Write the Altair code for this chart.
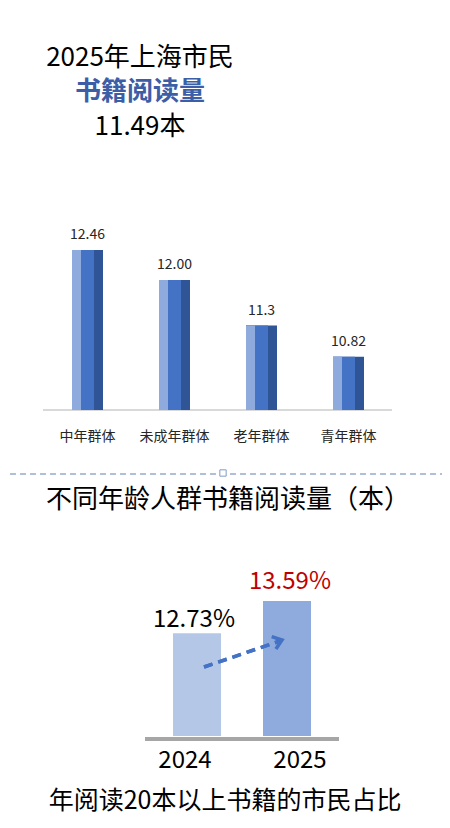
import altair as alt
import pandas as pd

# ---- data ----
groups = ["中年群体", "未成年群体", "老年群体", "青年群体"]
group_values = [12.46, 12.00, 11.3, 10.82]
group_labels = ["12.46", "12.00", "11.3", "10.82"]

years = ["2024", "2025"]
year_values = [12.73, 13.59]
year_labels = ["12.73%", "13.59%"]

title_lines = ["2025年上海市民", "书籍阅读量", "11.49本"]
mid_title = "不同年龄人群书籍阅读量（本）"
bottom_title = "年阅读20本以上书籍的市民占比"

FONT = "Noto Sans CJK SC"
W, H = 434, 812

df_top = pd.DataFrame({"group": groups, "value": group_values, "label": group_labels})
df_bot = pd.DataFrame({"year": years, "value": year_values, "label": year_labels})

# scales (pixel ranges inside the single canvas)
xs_top = alt.Scale(domain=groups, range=[36, 384], paddingInner=0, paddingOuter=0)
ys_top = alt.Scale(domain=[10, 13], range=[402, 207], zero=False, nice=False)
xs_bot = alt.Scale(domain=years, range=[144, 324], paddingInner=0, paddingOuter=0)
ys_bot = alt.Scale(domain=[10, 14], range=[728, 577.6], zero=False, nice=False)

base_top = alt.Chart(df_top)
X_top = alt.X("group:N", scale=xs_top, axis=None, sort=groups)
Y_top = alt.Y("value:Q", scale=ys_top, axis=None)

bar_dark = base_top.mark_bar(size=31, color="#2F5597").encode(x=X_top, y=Y_top, y2=alt.datum(10))
bar_mid = base_top.mark_bar(size=22, xOffset=-4.5, color="#4472C4").encode(x=X_top, y=Y_top, y2=alt.datum(10))
bar_light = base_top.mark_bar(size=9, xOffset=-11, color="#8FAADC").encode(x=X_top, y=Y_top, y2=alt.datum(10))

top_vals = base_top.mark_text(font=FONT, fontSize=14, color="#262626", baseline="bottom", dy=-8).encode(
    x=X_top, y=Y_top, text="label:N")
top_cats = base_top.mark_text(font=FONT, fontSize=14, color="#262626", baseline="middle", dy=27).encode(
    x=X_top, y=alt.Y("base:Q", scale=ys_top, axis=None), text="group:N").transform_calculate(base="10")

axis_line = alt.Chart(df_top).mark_rule(color="#D9D9D9", strokeWidth=1.5).encode(
    x=alt.value(35), x2=alt.value(384), y=alt.value(402))

t1 = alt.Chart(pd.DataFrame({"t": [title_lines[0]]})).mark_text(
    font=FONT, fontSize=26, color="#000000", baseline="middle", align="center").encode(
    x=alt.value(132), y=alt.value(50), text="t:N")
t2 = alt.Chart(pd.DataFrame({"t": [title_lines[1]]})).mark_text(
    font=FONT, fontSize=26, fontWeight="bold", color="#3B5EA6", baseline="middle", align="center").encode(
    x=alt.value(132), y=alt.value(84), text="t:N")
t3 = alt.Chart(pd.DataFrame({"t": [title_lines[2]]})).mark_text(
    font=FONT, fontSize=26, color="#000000", baseline="middle", align="center").encode(
    x=alt.value(132), y=alt.value(119), text="t:N")

sep = alt.Chart(df_top).mark_rule(color="#A9BCD5", strokeWidth=1, strokeDash=[6, 4]).encode(
    x=alt.value(-8), x2=alt.value(W), y=alt.value(466))
handle = alt.Chart(pd.DataFrame({"h": [1]})).mark_point(
    shape="square", size=40, filled=True, fill="#FFFFFF", stroke="#7F9DC6", strokeWidth=1, opacity=1).encode(
    x=alt.value(215), y=alt.value(465))

t_mid = alt.Chart(pd.DataFrame({"t": [mid_title]})).mark_text(
    font=FONT, fontSize=26, color="#000000", baseline="middle", align="center").encode(
    x=alt.value(220), y=alt.value(492), text="t:N")

# bottom chart
base_bot = alt.Chart(df_bot)
X_bot = alt.X("year:N", scale=xs_bot, axis=None, sort=years)
Y_bot = alt.Y("value:Q", scale=ys_bot, axis=None)
bars_bot = base_bot.mark_bar(size=48).encode(
    x=X_bot, y=Y_bot, y2=alt.datum(10),
    color=alt.Color("year:N", scale=alt.Scale(domain=years, range=["#B4C7E7", "#8FAADC"]), legend=None))

gray_base = alt.Chart(df_bot).mark_rule(color="#A6A6A6", strokeWidth=4).encode(
    x=alt.value(137), x2=alt.value(331), y=alt.value(731))

val_2024 = base_bot.transform_filter(alt.datum.year == "2024").mark_text(
    font=FONT, fontSize=24, color="#000000", baseline="alphabetic", dy=-6, dx=-3).encode(
    x=X_bot, y=Y_bot, text="label:N")
val_2025 = base_bot.transform_filter(alt.datum.year == "2025").mark_text(
    font=FONT, fontSize=24, color="#C00000", baseline="alphabetic", dy=-12, dx=3).encode(
    x=X_bot, y=Y_bot, text="label:N")

yl_2024 = base_bot.transform_filter(alt.datum.year == "2024").mark_text(
    font=FONT, fontSize=24, color="#000000", baseline="alphabetic", dy=32, dx=-12).encode(
    x=X_bot, y=alt.Y("base:Q", scale=ys_bot, axis=None), text="year:N").transform_calculate(base="10")
yl_2025 = base_bot.transform_filter(alt.datum.year == "2025").mark_text(
    font=FONT, fontSize=24, color="#000000", baseline="alphabetic", dy=32, dx=13).encode(
    x=X_bot, y=alt.Y("base:Q", scale=ys_bot, axis=None), text="year:N").transform_calculate(base="10")

arrow_line = alt.Chart(df_bot).mark_rule(color="#4472C4", strokeWidth=3.5, strokeDash=[9, 6]).encode(
    x=alt.value(196), y=alt.value(659), x2=alt.value(272), y2=alt.value(633))
arrow_head = alt.Chart(pd.DataFrame({"h": [1]})).mark_point(
    shape="M-1,-0.75L0,0L-1,0.75", size=300, filled=False, color="#4472C4", strokeWidth=3.5,
    opacity=1, angle=341).encode(x=alt.value(274), y=alt.value(632))

t_bot = alt.Chart(pd.DataFrame({"t": [bottom_title]})).mark_text(
    font=FONT, fontSize=25, color="#000000", baseline="middle", align="center").encode(
    x=alt.value(217), y=alt.value(793), text="t:N")

chart = alt.layer(
    axis_line, bar_dark, bar_mid, bar_light, top_vals, top_cats,
    t1, t2, t3, sep, handle, t_mid,
    gray_base, bars_bot, val_2024, val_2025, yl_2024, yl_2025,
    arrow_line, arrow_head, t_bot,
).resolve_scale(x="independent", y="independent", color="independent").properties(
    width=W, height=H, autosize=alt.AutoSizeParams(type="none"), padding=0,
    background="#FFFFFF",
).configure_view(stroke=None)

chart.save("out.html", embed_options={"renderer": "svg", "actions": False})
